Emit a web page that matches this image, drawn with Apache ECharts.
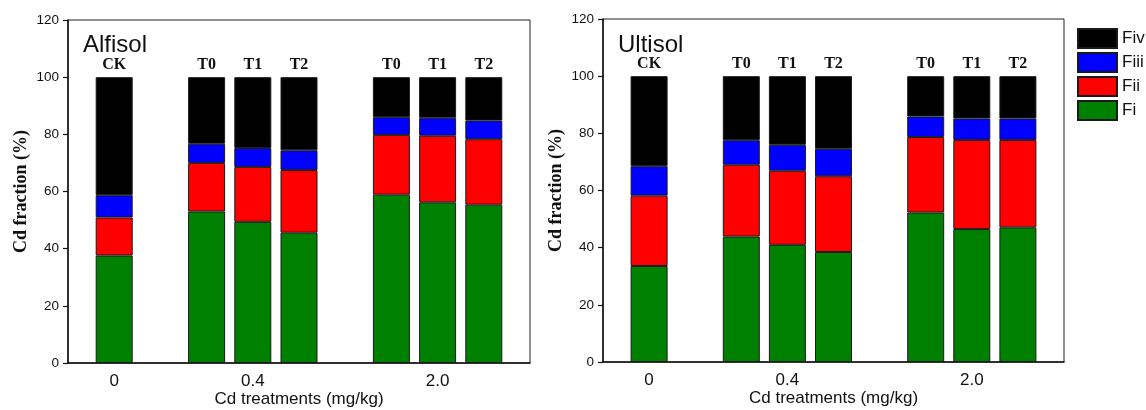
<!DOCTYPE html>
<html>
<head>
<meta charset="utf-8">
<script src="https://cdn.jsdelivr.net/npm/echarts@6/dist/echarts.min.js"></script>
<style>html,body{margin:0;padding:0;background:#fff}#c{width:1146px;height:410px}</style>
</head>
<body>
<div id="c"></div>
<script>
// ---- data ----
const treatments = ['CK', 'T0', 'T1', 'T2', 'T0', 'T1', 'T2'];
const doses = ['0', '0.4', '0.4', '0.4', '2.0', '2.0', '2.0'];
const fractionNames = ['Fi', 'Fii', 'Fiii', 'Fiv'];
const yTicks = [0, 20, 40, 60, 80, 100, 120];

const alfisolFi   = [37.6, 53.0, 49.4, 45.6, 58.9, 56.2, 55.4];
const alfisolFii  = [13.3, 17.0, 19.2, 21.9, 20.9, 23.3, 22.9];
const alfisolFiii = [7.8, 6.7, 6.6, 6.9, 6.2, 6.3, 6.5];
const alfisolFiv  = [41.3, 23.3, 24.8, 25.6, 14.0, 14.2, 15.2];

const ultisolFi   = [33.6, 43.9, 41.0, 38.5, 52.3, 46.5, 47.1];
const ultisolFii  = [24.6, 25.1, 25.9, 26.5, 26.4, 31.2, 30.6];
const ultisolFiii = [10.3, 8.6, 9.1, 9.6, 7.2, 7.5, 7.5];
const ultisolFiv  = [31.5, 22.4, 24.0, 25.4, 14.1, 14.8, 14.8];

// ---- build category slots (gap between dose groups) ----
const slotOfBar = [];
let nSlots = 1;
for (let i = 0; i < treatments.length; i++) {
  if (i > 0 && doses[i] !== doses[i - 1]) nSlots++;
  slotOfBar.push(nSlots);
  nSlots++;
}
nSlots++;
const categories = new Array(nSlots).fill('');
const uniqDoses = [...new Set(doses)];
uniqDoses.forEach(d => {
  const idx = doses.map((x, i) => x === d ? i : -1).filter(i => i >= 0);
  const mid = idx[Math.floor(idx.length / 2)];
  categories[slotOfBar[mid]] = d;
});
const slotLabel = new Array(nSlots).fill('');
treatments.forEach((t, i) => { slotLabel[slotOfBar[i]] = t; });
function toSlots(arr) {
  const out = new Array(nSlots).fill('-');
  arr.forEach((v, i) => { out[slotOfBar[i]] = v; });
  return out;
}

const colors = { Fi: '#008000', Fii: '#ff0000', Fiii: '#0000ff', Fiv: '#000000' };
const soils = [
  { title: 'Alfisol', data: { Fi: alfisolFi, Fii: alfisolFii, Fiii: alfisolFiii, Fiv: alfisolFiv } },
  { title: 'Ultisol', data: { Fi: ultisolFi, Fii: ultisolFii, Fiii: ultisolFiii, Fiv: ultisolFiv } }
];

const grids = [
  { left: 68, top: 20, width: 462, height: 343 },
  { left: 603, top: 19, width: 461, height: 343 }
];

const option = {
  backgroundColor: '#fff',
  animation: false,
  title: soils.map((s, i) => ({
    text: s.title,
    left: grids[i].left + 10,
    top: 28,
    textStyle: { fontFamily: 'Liberation Sans', fontSize: 24, fontWeight: 'normal', color: '#111' }
  })),
  legend: {
    orient: 'vertical',
    left: 1077,
    top: 28,
    padding: 0,
    icon: 'rect',
    itemWidth: 39,
    itemHeight: 19,
    itemGap: 3,
    data: ['Fiv', 'Fiii', 'Fii', 'Fi'],
    textStyle: { fontFamily: 'Liberation Sans', fontSize: 17, lineHeight: 19, color: '#111' },
    selectedMode: false
  },
  grid: grids.map(g => Object.assign({ show: true, borderColor: '#222', borderWidth: 1, backgroundColor: 'transparent', containLabel: false, outerBoundsMode: 'none' }, g)),
  xAxis: grids.map((g, i) => ({
    type: 'category',
    gridIndex: i,
    data: categories,
    boundaryGap: false,
    axisLine: { lineStyle: { color: '#111', width: 1.5 } },
    axisTick: { show: false },
    axisLabel: { interval: 0, margin: 10, fontFamily: 'Liberation Sans', fontSize: 17, color: '#111' },
    name: 'Cd treatments (mg/kg)',
    nameLocation: 'middle',
    nameGap: 28,
    nameMoveOverlap: false,
    nameTextStyle: { fontFamily: 'Liberation Sans', fontSize: 17, color: '#111' },
    splitLine: { show: false }
  })),
  yAxis: grids.map((g, i) => ({
    type: 'value',
    gridIndex: i,
    min: yTicks[0],
    max: yTicks[yTicks.length - 1],
    interval: yTicks[1] - yTicks[0],
    axisLine: { show: true, lineStyle: { color: '#111', width: 1.5 } },
    axisTick: { show: true, inside: false, length: 5, lineStyle: { color: '#111', width: 1.2 } },
    axisLabel: { margin: 9, fontFamily: 'Liberation Sans', fontSize: 13.5, color: '#111' },
    splitLine: { show: false },
    name: 'Cd fraction (%)',
    nameLocation: 'middle',
    nameGap: 38,
    nameMoveOverlap: false,
    nameTextStyle: { fontFamily: 'Liberation Serif', fontWeight: 'bold', fontSize: 18, color: '#111' }
  })),
  series: []
};

soils.forEach((s, gi) => {
  fractionNames.forEach(f => {
    const ser = {
      name: f,
      type: 'bar',
      xAxisIndex: gi,
      yAxisIndex: gi,
      stack: 'soil' + gi,
      barWidth: 37,
      data: toSlots(s.data[f]),
      itemStyle: { color: colors[f], borderColor: '#1a1a1a', borderWidth: 1 }
    };
    if (f === 'Fiv') {
      ser.label = {
        show: true,
        position: 'top',
        distance: 4,
        formatter: p => slotLabel[p.dataIndex],
        fontFamily: 'Liberation Serif',
        fontWeight: 'bold',
        fontSize: 16,
        color: '#111'
      };
    }
    option.series.push(ser);
  });
});

const chart = echarts.init(document.getElementById('c'), null, { renderer: 'canvas' });
chart.setOption(option);
</script>
</body>
</html>
